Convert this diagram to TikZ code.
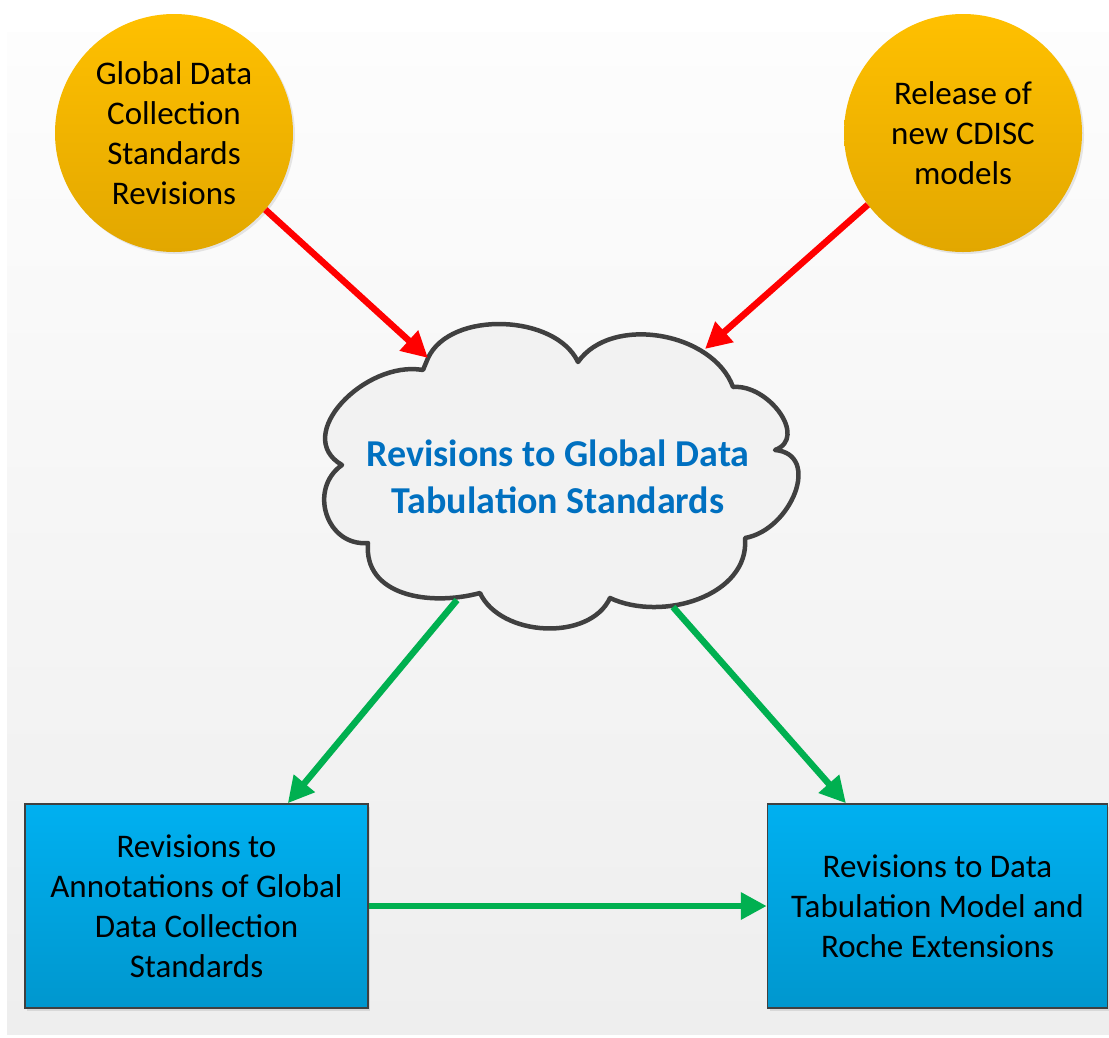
\documentclass[tikz,border=0pt]{standalone}
\usepackage{fontspec}
\setmainfont{Carlito}
\usetikzlibrary{arrows.meta,shadows,calc}
\definecolor{goldtop}{HTML}{FFC000}
\definecolor{goldbot}{HTML}{E2A700}
\definecolor{bluetop}{HTML}{00B0F0}
\definecolor{bluebot}{HTML}{0097CE}
\definecolor{cloudfill}{HTML}{F2F2F2}
\definecolor{edgegrey}{HTML}{404040}
\definecolor{cloudtext}{HTML}{0070C0}
\definecolor{arrred}{HTML}{FF0000}
\definecolor{arrgreen}{HTML}{00B050}
\definecolor{bgtop}{HTML}{FDFDFD}
\definecolor{bgbot}{HTML}{EEEEEE}
\tikzset{
  circnode/.style={circle, minimum size=238pt, inner sep=0pt, top color=goldtop, bottom color=goldbot,
    drop shadow={opacity=0.18, shadow xshift=2pt, shadow yshift=-2pt},
    align=center, font=\fontsize{33pt}{40pt}\selectfont, text=black},
  boxnode/.style={rectangle, draw=edgegrey, line width=1.5pt, top color=bluetop, bottom color=bluebot,
    minimum height=204pt, inner sep=0pt,
    drop shadow={opacity=0.2, shadow xshift=2pt, shadow yshift=-3pt},
    align=center, font=\fontsize{33pt}{40pt}\selectfont, text=black},
  redarrow/.style={draw=arrred, line width=6.5pt, -{Triangle[length=26pt,width=26pt]}},
  greenarrow/.style={draw=arrgreen, line width=6.5pt, -{Triangle[length=26pt,width=26pt]}},
  cloudpath/.style={draw=edgegrey, line width=4.5pt, fill=cloudfill, line join=round}
}
\begin{document}
\begin{tikzpicture}[x=1pt,y=1pt]
\useasboundingbox (0,0) rectangle (1109,-1037);
\fill[top color=bgtop, bottom color=bgbot] (7,-32) rectangle (1109,-1034);

% cloud outline coordinates
\coordinate (N1) at (428,-358);
\coordinate (N2) at (578,-362);
\coordinate (N3) at (733,-387);
\coordinate (N4) at (775,-450);
\coordinate (N5) at (745,-538);
\coordinate (N6) at (610,-598);
\coordinate (N7) at (480,-593);
\coordinate (N8) at (368,-543);
\coordinate (N9) at (342,-465);
\coordinate (N10) at (423,-370);
\path[cloudpath] (N1)
  to[out=65,in=115,looseness=0.9] (N2)
  to[out=55,in=110,looseness=0.95] (N3)
  to[out=5,in=20,looseness=1.2] (N4)
  to[out=-5,in=10,looseness=1.3] (N5)
  to[out=-85,in=-25,looseness=1.0] (N6)
  to[out=-115,in=-65,looseness=0.95] (N7)
  to[out=-165,in=-95,looseness=1.1] (N8)
  to[out=185,in=215,looseness=1.3] (N9)
  to[out=150,in=170,looseness=1.2] (N10)
  -- cycle;
\node[text=cloudtext, font=\fontsize{38pt}{47pt}\selectfont\bfseries, align=center] (cloud) at (558,-477)
  {Revisions to Global Data\\Tabulation Standards};
\coordinate (cin2) at (705,-349);
\coordinate (cout1) at (457,-600);
\coordinate (cout2) at (673,-607);

\node[circnode] (c1) at (174,-133) {Global Data\\Collection\\Standards\\Revisions};
\node[circnode] (c2) at (963,-133) {Release of\\new CDISC\\models};

\node[boxnode, minimum width=343pt] (b1) at (196.5,-906)
  {Revisions to\\Annotations of Global\\Data Collection\\Standards};
\node[boxnode, minimum width=340pt] (b2) at (937.5,-906)
  {Revisions to Data\\Tabulation Model and\\Roche Extensions};

\draw[redarrow] (c1.-40) -- (N1);
\draw[redarrow] (c2.217) -- (cin2);
\draw[greenarrow] (cout1) -- ($(b1.north west)!0.765!(b1.north east)$);
\draw[greenarrow] (cout2) -- ($(b2.north west)!0.232!(b2.north east)$);
\draw[greenarrow] (b1.east) -- (b2.west);
\end{tikzpicture}
\end{document}
